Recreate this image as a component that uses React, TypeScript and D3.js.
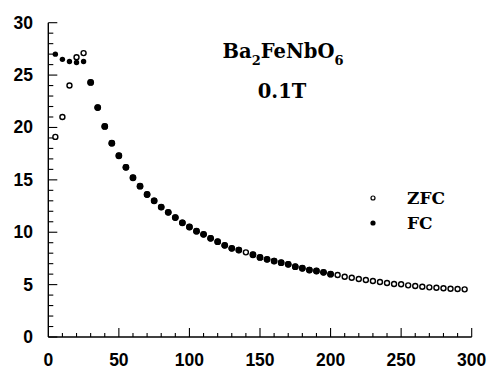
import React from "react";
import * as d3 from "d3";

// temperatures (K) and magnetisation readings
const lowT = [5, 10, 15, 20, 25];
const zfcLow = [19.1, 21.0, 24.0, 26.7, 27.1];
const fcLow = [27.0, 26.5, 26.3, 26.2, 26.3];

// from 30 K up, ZFC and FC fall on top of each other
const highT = [
  30, 35, 40, 45, 50, 55, 60, 65, 70, 75, 80, 85, 90, 95, 100, 105, 110, 115,
  120, 125, 130, 135, 140, 145, 150, 155, 160, 165, 170, 175, 180, 185, 190,
  195, 200, 205, 210, 215, 220, 225, 230, 235, 240, 245, 250, 255, 260, 265,
  270, 275, 280, 285, 290, 295,
];
const highVals = [
  24.3, 21.9, 20.1, 18.5, 17.3, 16.2, 15.2, 14.4, 13.6, 13.0, 12.4, 11.9, 11.4,
  10.9, 10.5, 10.1, 9.8, 9.42, 9.1, 8.75, 8.46, 8.3, 8.08, 7.85, 7.6, 7.41,
  7.25, 7.09, 6.94, 6.71, 6.56, 6.39, 6.3, 6.17, 6.0, 5.92, 5.75, 5.66, 5.53,
  5.44, 5.34, 5.25, 5.15, 5.06, 5.03, 4.93, 4.87, 4.8, 4.74, 4.7, 4.65, 4.6,
  4.58, 4.55,
];
// FC points missing in the high-T part (only ZFC visible)
const fcMissing = [140];
const fcLastT = 200;

const xTicks = [0, 50, 100, 150, 200, 250, 300];
const yTicks = [0, 5, 10, 15, 20, 25, 30];

const W = 487;
const H = 369;

const App = () => {
  const x = d3.scaleLinear().domain([0, 300]).range([48.3, 471.7]);
  const y = d3.scaleLinear().domain([0, 30]).range([337, 22.7]);

  const zfc = lowT
    .map((t, i) => ({ t, v: zfcLow[i] }))
    .concat(highT.map((t, i) => ({ t, v: highVals[i] })));
  const fc = lowT
    .map((t, i) => ({ t, v: fcLow[i] }))
    .concat(
      highT
        .map((t, i) => ({ t, v: highVals[i] }))
        .filter((d) => d.t <= fcLastT && !fcMissing.includes(d.t))
    );

  const labelFont = "'Liberation Sans', Arial, sans-serif";
  const serif = "'DejaVu Serif', serif";

  return (
    <svg
      width={W}
      height={H}
      style={{ position: "absolute", left: 0, top: 0, background: "#fff" }}
    >
      {/* axes */}
      <g stroke="#000" strokeWidth={1.4} fill="none">
        <line x1={x(0)} x2={x(0)} y1={y(30)} y2={y(0)} />
        <line x1={x(0)} x2={x(300)} y1={y(0)} y2={y(0)} />
        {d3.range(0, 31, 1).map((v) => (
          <line
            key={"yt" + v}
            x1={x(0)}
            x2={x(0) + (v % 5 === 0 ? 9 : 5)}
            y1={y(v)}
            y2={y(v)}
            strokeWidth={1.1}
          />
        ))}
        {d3.range(10, 301, 10).map((v) => (
          <line
            key={"xt" + v}
            x1={x(v)}
            x2={x(v)}
            y1={y(0)}
            y2={y(0) - (v % 50 === 0 ? 9 : 4)}
            strokeWidth={1.1}
          />
        ))}
      </g>

      {/* tick labels */}
      <g fontFamily={labelFont} fontWeight="bold" fontSize={17.5} fill="#000">
        {yTicks.map((v) => (
          <text key={"yl" + v} x={33} y={y(v) + 6} textAnchor="end">
            {v}
          </text>
        ))}
        {xTicks.map((v) => (
          <text key={"xl" + v} x={x(v)} y={366} textAnchor="middle">
            {v}
          </text>
        ))}
      </g>

      {/* data */}
      <g>
        {zfc.map((d, i) => (
          <circle
            key={"z" + i}
            cx={x(d.t)}
            cy={y(d.v)}
            r={2.5}
            fill="#fff"
            stroke="#000"
            strokeWidth={1.4}
          />
        ))}
        {fc.map((d, i) => (
          <circle
            key={"f" + i}
            cx={x(d.t)}
            cy={y(d.v)}
            r={d.t < 30 ? 2.7 : 3.4}
            fill="#000"
          />
        ))}
      </g>

      {/* title */}
      <text
        x={283}
        y={58}
        textAnchor="middle"
        fontFamily={serif}
        fontWeight="bold"
        fontSize={19.5}
      >
        Ba
        <tspan fontSize={13} dy={7}>
          2
        </tspan>
        <tspan dy={-7}>FeNbO</tspan>
        <tspan fontSize={13} dy={7}>
          6
        </tspan>
      </text>
      <text
        x={282}
        y={98}
        textAnchor="middle"
        fontFamily={serif}
        fontWeight="bold"
        fontSize={19.5}
      >
        0.1T
      </text>

      {/* legend */}
      <circle cx={373} cy={198} r={2} fill="#fff" stroke="#000" strokeWidth={1.2} />
      <circle cx={373} cy={223} r={2.6} fill="#000" />
      <g fontFamily={serif} fontWeight="bold" fontSize={17}>
        <text x={407} y={204}>
          ZFC
        </text>
        <text x={407} y={229}>
          FC
        </text>
      </g>
    </svg>
  );
};

export default App;
